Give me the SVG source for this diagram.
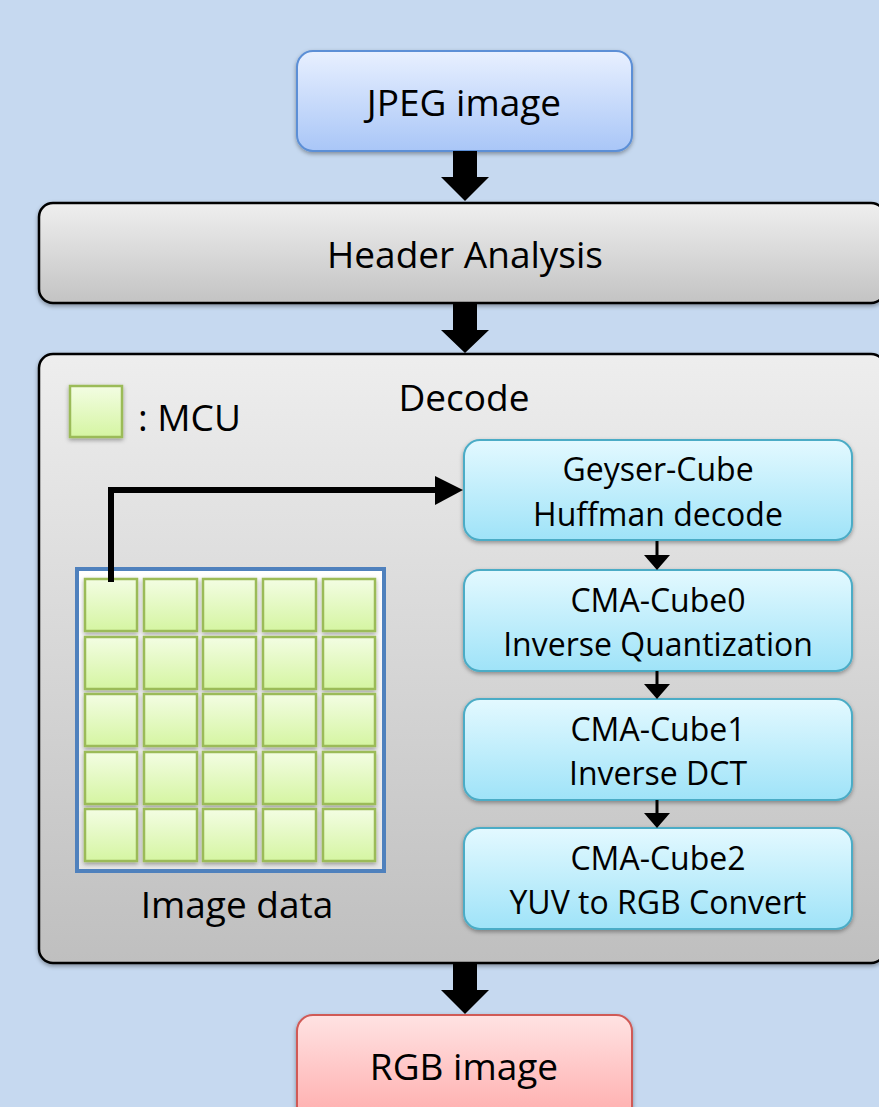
<svg xmlns="http://www.w3.org/2000/svg" width="879" height="1107" viewBox="0 0 879 1107">
<defs>
<linearGradient id="gBlue" x1="0" y1="0" x2="0" y2="1"><stop offset="0" stop-color="#e8f0ff"/><stop offset="1" stop-color="#a9c6f7"/></linearGradient>
<linearGradient id="gGray" x1="0" y1="0" x2="0" y2="1"><stop offset="0" stop-color="#efefef"/><stop offset="1" stop-color="#c3c3c3"/></linearGradient>
<linearGradient id="gGrayBig" x1="0" y1="0" x2="0" y2="1"><stop offset="0" stop-color="#eeeeee"/><stop offset="1" stop-color="#bfbfbf"/></linearGradient>
<linearGradient id="gCyan" x1="0" y1="0" x2="0" y2="1"><stop offset="0" stop-color="#e3f9ff"/><stop offset="1" stop-color="#9fe3f8"/></linearGradient>
<linearGradient id="gRed" x1="0" y1="0" x2="0" y2="1"><stop offset="0" stop-color="#ffe3e3"/><stop offset="1" stop-color="#ffaaaa"/></linearGradient>
<linearGradient id="gGreen" x1="0" y1="0" x2="0" y2="1"><stop offset="0" stop-color="#f3fde3"/><stop offset="1" stop-color="#d5f5a2"/></linearGradient>
<linearGradient id="gFrame" x1="0" y1="0" x2="0" y2="1"><stop offset="0" stop-color="#ffffff"/><stop offset="1" stop-color="#e6e6e6"/></linearGradient>
<filter id="sh" x="-10%" y="-10%" width="120%" height="130%"><feDropShadow dx="0" dy="2" stdDeviation="2" flood-color="#000" flood-opacity="0.35"/></filter>
</defs>
<style>
text{font-family:"Open Sans","Liberation Sans",sans-serif;fill:#000;text-anchor:middle}
.big{font-size:37px}
.mid{font-size:32px}
.cube{fill:url(#gCyan);stroke:#4bacc6;stroke-width:2}
.mcu{fill:url(#gGreen);stroke:#9bbb59;stroke-width:2.5}
.blk{fill:#000}
</style>
<rect width="879" height="1107" fill="#c6d9f0"/>

<g id="jpeg">
<rect x="297" y="51" width="335" height="100" rx="16" fill="url(#gBlue)" stroke="#5b8fd6" stroke-width="2" filter="url(#sh)"/>
<text class="big" x="464" y="116">JPEG image</text>
</g>

<g id="header">
<rect x="39" y="203" width="846" height="100" rx="14" fill="url(#gGray)" stroke="#000" stroke-width="2.5" filter="url(#sh)"/>
<text class="big" x="465" y="268">Header Analysis</text>
</g>

<g id="decode">
<rect x="39" y="354" width="846" height="609" rx="14" fill="url(#gGrayBig)" stroke="#000" stroke-width="2.5" filter="url(#sh)"/>
<text class="big" x="464" y="411">Decode</text>
</g>

<g id="legend">
<rect class="mcu" x="70" y="386" width="52" height="51" filter="url(#sh)"/>
<text class="big" x="138" y="431" style="text-anchor:start">: MCU</text>
</g>

<g id="image-data">
<rect x="77" y="569" width="307" height="302" fill="url(#gFrame)" stroke="#4f81bd" stroke-width="4"/>
<g filter="url(#sh)">
<rect class="mcu" x="85" y="579" width="52" height="52"/><rect class="mcu" x="144" y="579" width="53" height="52"/><rect class="mcu" x="203" y="579" width="53" height="52"/><rect class="mcu" x="263" y="579" width="53" height="52"/><rect class="mcu" x="323" y="579" width="52" height="52"/>
<rect class="mcu" x="85" y="637" width="52" height="52"/><rect class="mcu" x="144" y="637" width="53" height="52"/><rect class="mcu" x="203" y="637" width="53" height="52"/><rect class="mcu" x="263" y="637" width="53" height="52"/><rect class="mcu" x="323" y="637" width="52" height="52"/>
<rect class="mcu" x="85" y="694" width="52" height="52"/><rect class="mcu" x="144" y="694" width="53" height="52"/><rect class="mcu" x="203" y="694" width="53" height="52"/><rect class="mcu" x="263" y="694" width="53" height="52"/><rect class="mcu" x="323" y="694" width="52" height="52"/>
<rect class="mcu" x="85" y="752" width="52" height="52"/><rect class="mcu" x="144" y="752" width="53" height="52"/><rect class="mcu" x="203" y="752" width="53" height="52"/><rect class="mcu" x="263" y="752" width="53" height="52"/><rect class="mcu" x="323" y="752" width="52" height="52"/>
<rect class="mcu" x="85" y="809" width="52" height="52"/><rect class="mcu" x="144" y="809" width="53" height="52"/><rect class="mcu" x="203" y="809" width="53" height="52"/><rect class="mcu" x="263" y="809" width="53" height="52"/><rect class="mcu" x="323" y="809" width="52" height="52"/>
</g>
<text class="big" x="237" y="918">Image data</text>
</g>

<g id="huffman">
<rect class="cube" x="464" y="440" width="388" height="100" rx="16" filter="url(#sh)"/>
<text class="mid" x="658" y="481">Geyser-Cube</text>
<text class="mid" x="658" y="526">Huffman decode</text>
</g>
<g id="iq">
<rect class="cube" x="464" y="570" width="388" height="101" rx="16" filter="url(#sh)"/>
<text class="mid" x="658" y="612">CMA-Cube0</text>
<text class="mid" x="658" y="656">Inverse Quantization</text>
</g>
<g id="idct">
<rect class="cube" x="464" y="699" width="388" height="101" rx="16" filter="url(#sh)"/>
<text class="mid" x="658" y="741">CMA-Cube1</text>
<text class="mid" x="658" y="785">Inverse DCT</text>
</g>
<g id="yuv">
<rect class="cube" x="464" y="828" width="388" height="101" rx="16" filter="url(#sh)"/>
<text class="mid" x="658" y="870">CMA-Cube2</text>
<text class="mid" x="658" y="914">YUV to RGB Convert</text>
</g>

<g id="rgb">
<rect x="297" y="1015" width="335" height="110" rx="16" fill="url(#gRed)" stroke="#d05a57" stroke-width="2" filter="url(#sh)"/>
<text class="big" x="464" y="1080">RGB image</text>
</g>

<g id="connectors">
<polygon class="blk" points="453,151 477,151 477,177 489,177 465,201 441,177 453,177"/>
<polygon class="blk" points="453,304 477,304 477,330 489,330 465,353 441,330 453,330"/>
<polygon class="blk" points="453,964 477,964 477,990 489,990 465,1014 441,990 453,990"/>
<polyline points="111,582 111,490 437,490" fill="none" stroke="#000" stroke-width="6"/>
<polygon class="blk" points="435,476 463,490 435,505"/>
<g>
<rect class="blk" x="655.5" y="541" width="3" height="16"/><polygon class="blk" points="644,555 670,555 657,570"/>
<rect class="blk" x="655.5" y="671" width="3" height="15"/><polygon class="blk" points="644,684 670,684 657,699"/>
<rect class="blk" x="655.5" y="800" width="3" height="15"/><polygon class="blk" points="644,813 670,813 657,828"/>
</g>
</g>
</svg>
